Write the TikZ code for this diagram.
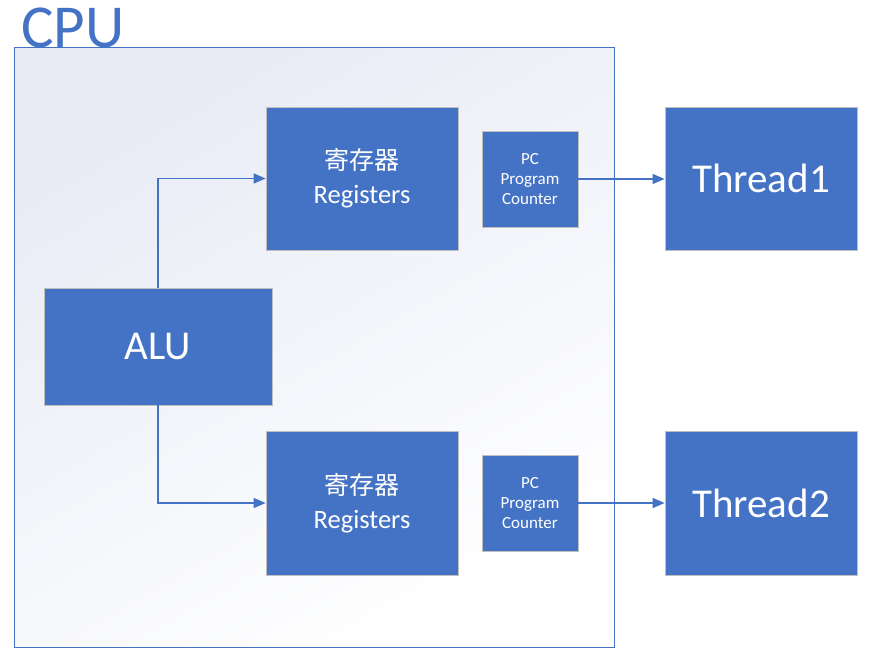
\documentclass[tikz,border=0pt]{standalone}
\usepackage{fontspec}
\setmainfont{Carlito}
\newfontfamily\cjk{Noto Sans CJK SC}
\usetikzlibrary{arrows.meta}
\definecolor{accent}{HTML}{4472C4}
\definecolor{boxedge}{HTML}{BFBFBF}
\definecolor{cpubg}{HTML}{E8EBF5}
\begin{document}
\begin{tikzpicture}[x=1pt,y=-1pt,
  blk/.style={draw=boxedge, line width=0.8pt, fill=accent, text=white, inner sep=0pt, align=center},
  regtext/.style={font=\fontsize{26.5}{34}\selectfont},
  pctext/.style={font=\fontsize{17}{20}\selectfont},
  bigtext/.style={font=\fontsize{41}{44}\selectfont},
  conn/.style={draw=accent, line width=1.5pt, -{Triangle[length=12pt,width=10pt]}}]
\useasboundingbox (0,0) rectangle (884,654);
\shade[shading=axis, top color=cpubg, middle color=cpubg!25!white, bottom color=white, shading angle=30] (14,47) rectangle (614,647);
\draw[accent, line width=1pt] (14,47) rectangle (614,647);
\node[anchor=base west, text=accent, font=\fontsize{61}{61}\selectfont, inner sep=0pt] (cpu) at (21,47) {CPU};

\node[blk, regtext, minimum width=192pt, minimum height=143pt] (reg1) at (362,178.5) {{\cjk\fontsize{25}{34}\selectfont 寄存器}\\Registers};
\node[blk, pctext, minimum width=96pt, minimum height=96pt] (pc1) at (530,179) {PC\\Program\\Counter};
\node[blk, bigtext, minimum width=192pt, minimum height=143pt] (th1) at (761,178.5) {Thread1};

\node[blk, bigtext, minimum width=228pt, minimum height=117pt] (alu) at (158,346.5) {ALU};

\node[blk, regtext, minimum width=192pt, minimum height=144pt] (reg2) at (362,503) {{\cjk\fontsize{25}{34}\selectfont 寄存器}\\Registers};
\node[blk, pctext, minimum width=96pt, minimum height=96pt] (pc2) at (530,503) {PC\\Program\\Counter};
\node[blk, bigtext, minimum width=192pt, minimum height=144pt] (th2) at (761,503) {Thread2};

\draw[conn] (alu.north) |- (reg1.west);
\draw[conn] (alu.south) |- (reg2.west);
\draw[conn] (pc1.east) -- (th1.west |- pc1.east);
\draw[conn] (pc2.east) -- (th2.west);
\end{tikzpicture}
\end{document}
